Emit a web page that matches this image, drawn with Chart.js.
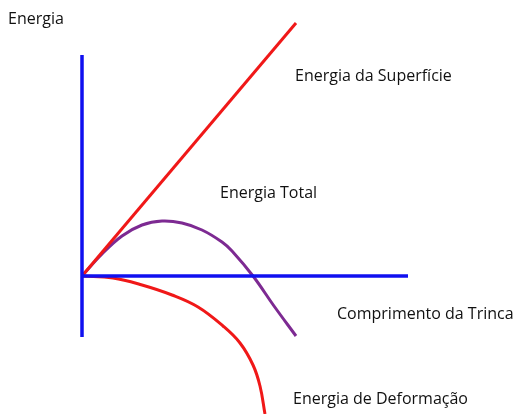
<!DOCTYPE html>
<html lang="pt">
<head>
<meta charset="utf-8">
<title>Energia x Comprimento da Trinca</title>
<script src="https://cdn.jsdelivr.net/npm/chart.js@4.4.1/dist/chart.umd.min.js"></script>
<style>
  html, body { margin: 0; padding: 0; background: #fff; }
  #wrap { width: 515px; height: 414px; }
</style>
</head>
<body>
<div id="wrap"><canvas id="c" width="515" height="414"></canvas></div>
<script>
// values (origin = where the two axes cross)
var surfaceX = [0, 214];
var surfaceY = [0, 253];

var totalX = [0, 20, 40, 60, 80, 100, 120, 140, 150, 171, 192, 214];
var totalY = [0, 22, 40, 51, 55, 53, 46, 34, 25, 0, -30, -60];

var deformX = [0, 31, 60, 90, 116, 141, 158, 171, 178, 183];
var deformY = [0, -2, -9, -19, -31, -50, -67, -89, -110, -138];

var axisV = [[0, 221], [0, -61]];
var axisH = [[0, 0], [326, 0]];

var labels = ['Energia', 'Energia da Superfície', 'Energia Total', 'Comprimento da Trinca', 'Energia de Deformação'];

function pts(xs, ys) {
  return xs.map(function(x, i) { return { x: x, y: ys[i] }; });
}
function pairs(a) {
  return a.map(function(p) { return { x: p[0], y: p[1] }; });
}

var textPlugin = {
  id: 'texts',
  afterDatasetsDraw: function(chart) {
    var ctx = chart.ctx;
    var sx = chart.scales.x, sy = chart.scales.y;
    // label anchors in data units (left, middle)
    var at = [[-74, 257], [213, 200], [138, 83], [255, -38], [211, -123]];
    ctx.save();
    ctx.font = '16px "Open Sans", sans-serif';
    ctx.fillStyle = '#111';
    ctx.textBaseline = 'middle';
    ctx.textAlign = 'left';
    labels.forEach(function(t, i) {
      ctx.fillText(t, sx.getPixelForValue(at[i][0]), sy.getPixelForValue(at[i][1]));
    });
    ctx.restore();
  }
};

new Chart(document.getElementById('c').getContext('2d'), {
  type: 'line',
  data: {
    datasets: [
      { data: pairs(axisV), borderColor: '#1010f0', borderWidth: 3.5, pointRadius: 0, tension: 0 },
      { data: pairs(axisH), borderColor: '#1010f0', borderWidth: 3.5, pointRadius: 0, tension: 0 },
      { data: pts(surfaceX, surfaceY), borderColor: '#f01818', borderWidth: 3, pointRadius: 0, tension: 0 },
      { data: pts(deformX, deformY), borderColor: '#f01818', borderWidth: 3, pointRadius: 0, tension: 0.4 },
      { data: pts(totalX, totalY), borderColor: '#7d2a92', borderWidth: 3, pointRadius: 0, tension: 0.4 }
    ]
  },
  options: {
    responsive: false,
    animation: false,
    layout: { padding: 0 },
    plugins: { legend: { display: false }, tooltip: { enabled: false } },
    scales: {
      x: { type: 'linear', min: -82, max: 433, display: false },
      y: { type: 'linear', min: -138, max: 276, display: false }
    }
  },
  plugins: [textPlugin]
});
</script>
</body>
</html>
